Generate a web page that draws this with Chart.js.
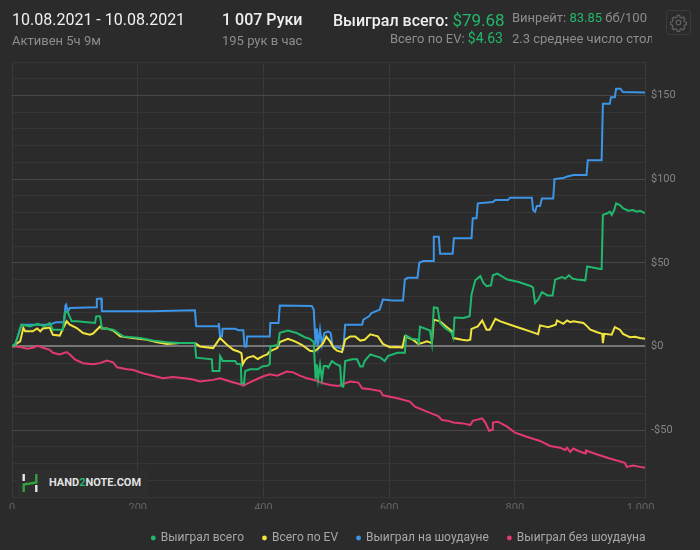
<!DOCTYPE html>
<html>
<head>
<meta charset="utf-8">
<script src="https://cdn.jsdelivr.net/npm/chart.js@4.4.1/dist/chart.umd.min.js"></script>
<style>
  body { margin: 0; background: #2b2b2b; font-family: Roboto, 'Noto Sans', sans-serif; overflow: hidden; }
  #wrap { position: relative; width: 700px; height: 550px; }
  #chart { position: absolute; left: 0; top: 0; }
  .t { position: absolute; white-space: nowrap; }
  .big { font-size: 16px; line-height: 16px; color: #efefef; }
  .med { font-weight: 500; }
  .sub { font-size: 13px; line-height: 13px; color: #8d8d8d; }
  .g { color: #22b86c; }
  .gear { position: absolute; left: 666px; top: 10px; width: 23px; height: 23px; border: 1px solid #3b3b3b; border-radius: 3px; }
  .mark { position: absolute; left: 17px; top: 470px; width: 131px; height: 26px; background: #2e2e2e; }
  .mark span.txt { position: absolute; left: 32px; top: 7px; font-size: 11px; line-height: 12px; font-weight: 700; color: #e2e2e2; }
</style>
</head>
<body>
<div id="wrap">
  <canvas id="chart" width="700" height="550"></canvas>

  <div class="t big" style="left:12px;top:12px">10.08.2021 - 10.08.2021</div>
  <div class="t sub" style="left:12px;top:34px">Активен 5ч 9м</div>
  <div class="t big med" style="left:222px;top:12px">1 007 Руки</div>
  <div class="t sub" style="left:222px;top:34px">195 рук в час</div>
  <div class="t big med" style="left:333px;top:12px">Выиграл всего: <span class="g" style="font-weight:400;font-size:17px">$79.68</span></div>
  <div class="t sub" style="right:197px;top:32px">Всего по EV: <span class="g" style="font-size:14px">$4.63</span></div>
  <div class="t sub" style="left:512px;top:11px">Винрейт: <span class="g">83.85</span> бб/100</div>
  <div class="t sub" style="left:512px;top:32px;width:140px;overflow:hidden">2.3 среднее число столов</div>
  <div class="gear">
    <svg width="23" height="23" viewBox="0 0 23 23">
      <g fill="none" stroke="#5e5e5e" stroke-width="1.3">
        <circle cx="11.5" cy="11.5" r="2.3"/>
        <path d="M10.3 4.5h2.4l.4 1.8 1.5.7 1.6-1 1.7 1.7-1 1.6.7 1.5 1.8.4v2.4l-1.8.4-.7 1.5 1 1.6-1.7 1.7-1.6-1-1.5.7-.4 1.8h-2.4l-.4-1.8-1.5-.7-1.6 1-1.7-1.7 1-1.6-.7-1.5-1.8-.4v-2.4l1.8-.4.7-1.5-1-1.6 1.7-1.7 1.6 1 1.5-.7z"/>
      </g>
    </svg>
  </div>
  <div class="mark">
    <svg width="24" height="24" viewBox="0 0 24 24" style="position:absolute;left:3px;top:1px">
      <rect x="2.5" y="3" width="2.4" height="7" fill="#e6e6e6"/>
      <path d="M3.7 21V13.5L16.3 11.5V3" fill="none" stroke="#2fa33f" stroke-width="2.4"/>
      <rect x="15.1" y="14" width="2.4" height="7" fill="#e6e6e6"/>
    </svg>
    <span class="txt">HAND<span class="g">2</span>NOTE.COM</span>
  </div>
</div>

<script>
// hands / values per series
const wonHands = [0, 5, 15, 29, 41, 52, 60, 65, 81, 84, 88, 95, 103, 132, 134, 140, 143, 161, 177, 204, 224, 247, 267, 291,
  293, 318, 319, 330, 331, 334, 335, 355, 358, 364, 365, 369, 371, 379, 391, 398, 407, 410, 411, 423, 426, 439, 453, 466,
  474, 480, 483, 485, 487, 490, 493, 496, 501, 503, 509, 515, 522, 524, 527, 530, 541, 549, 554, 558, 561, 570, 586, 593,
  598, 613, 625, 627, 636, 646, 647, 649, 665, 668, 671, 677, 681, 689, 700, 702, 704, 718, 728, 731, 737, 745, 750, 755,
  762, 765, 772, 788, 806, 826, 829, 832, 837, 843, 852, 860, 864, 875, 880, 886, 892, 899, 912, 915, 936, 938, 940, 947,
  951, 954, 958, 961, 967, 972, 980, 988, 994, 999, 1007];
const wonValues = [0, 1, 13, 12, 13.5, 12, 14, 10, 10, 20, 21, 15, 15, 14, 18, 18, 11, 10, 6, 5, 3.5, 2.5, 2, 2,
  -6.7, -7.7, -14.7, -14.7, -5.8, -7.7, -8.7, -8.7, -10.5, -10.5, -22, -22.3, -14.7, -13.7, -13.7, -12, -11.5, -10.5, 0, 0.8, 8.2, 9.5, 8, 5.5,
  4.5, 2.6, -19.6, -10.7, -19.6, -11, -19.6, -11.7, -11.7, -12.7, -8.7, -10.5, -11.7, -23.6, -24, -8.7, -7.7, -7.7, -12, -12, -8.7, -4.8, -6.7, -8.7,
  -5.8, -3.8, -3.8, 6.5, 4.5, 4.2, 1, 11.8, 9.5, 2, 23.3, 23, 14, 11, 8, 5.6, 17.3, 17, 18, 31, 39.5, 42, 38, 36,
  36.5, 42.5, 43.5, 40, 38.5, 36, 35, 26, 28, 32.5, 30.5, 30.5, 39.9, 41.5, 40.5, 42.5, 40.5, 40, 39.5, 47.8, 46.3, 46.3, 78.6, 79.6,
  80.5, 78.6, 81.5, 85.5, 84.5, 82.6, 81.1, 81.5, 80.5, 81, 79.7];

const evHands = [0, 13, 18, 21, 33, 40, 45, 49, 60, 65, 76, 81, 87, 92, 103, 113, 124, 129, 137, 140, 143, 151, 161, 172,
  192, 215, 231, 247, 267, 291, 299, 320, 331, 342, 352, 360, 365, 367, 371, 375, 384, 391, 399, 406, 410, 422, 426, 439,
  450, 461, 474, 481, 488, 495, 500, 506, 512, 517, 525, 530, 538, 546, 554, 561, 570, 582, 590, 601, 613, 621, 625, 632,
  638, 646, 652, 660, 668, 671, 681, 692, 700, 702, 716, 724, 729, 731, 741, 748, 755, 760, 769, 777, 796, 808, 824, 837,
  840, 853, 865, 867, 877, 883, 888, 893, 909, 915, 920, 931, 939, 940, 942, 954, 959, 967, 972, 983, 991, 999, 1007];
const evValues = [0, 3, 11, 9, 9, 10.7, 9, 10.7, 11.3, 7, 6.5, 10.7, 15, 13, 11, 8, 7, 7.7, 10.7, 11.9, 10.7, 10.7, 9.5, 6,
  5, 4, 2.5, 1.5, 2, 2, 0, -1, 5, 1, -2, -3, -4, -10.7, -8, -6.7, -5.8, -7.5, -5.8, -4.8, -3, -1, 2.6, 4.6,
  3, 1, -2.6, -3, -1, 2, 5.8, 3, -1, -2.5, -3.4, 4, 6, 6, 3.5, 4, 7.2, 6, 1.5, -0.5, -0.4, -0.7, 6, 5,
  4, 1.5, 2, 3, 2, 16, 15, 11.5, 9, 5, 4, 3.5, 4, 10.5, 12, 15.5, 10, 10, 16.5, 15, 12.5, 11, 9, 7.3,
  12.6, 11.5, 13, 15.5, 13.5, 15.5, 14.5, 15, 14, 12, 10, 8.5, 7.5, 2, 7.5, 7, 11.5, 10, 7.5, 5.5, 5.8, 5, 4.6];

const sdHands = [0, 5, 15, 60, 70, 83, 85, 86, 89, 92, 134, 135, 142, 143, 220, 291, 293, 328, 329, 331, 334, 335, 355, 360,
  368, 370, 373, 374, 410, 411, 424, 426, 477, 480, 483, 485, 487, 490, 493, 497, 503, 507, 510, 519, 527, 530, 557, 559,
  568, 572, 585, 590, 605, 622, 625, 630, 645, 648, 654, 670, 671, 679, 681, 701, 703, 731, 733, 739, 741, 765, 769, 789,
  792, 827, 829, 832, 835, 840, 843, 861, 863, 877, 882, 893, 914, 916, 938, 940, 951, 953, 959, 961, 968, 972, 1007];
const sdValues = [0, 1, 13, 13, 14.5, 14.5, 24.4, 25, 21, 23, 23.4, 28.4, 28.6, 21, 21, 21.6, 12, 12, 14, 6, 6, 10.5, 10.5, 9.7,
  9.7, 0, 0, 6, 6, 14, 14, 24.4, 24.2, 22, 1, 10.7, 1, 10, 1, 8, 9, 8, 0, -0.6, -1.8, 13, 13, 16,
  18, 20, 22, 28, 27.5, 27.5, 40, 41, 41, 50, 51, 51, 65.6, 65.6, 55.4, 55.4, 64.7, 64.7, 76.6, 76.6, 85.5, 86.3, 87.5, 87.5,
  88.9, 88.9, 81.5, 80.5, 84, 84, 88.4, 88.4, 100, 100.6, 101.4, 102.4, 102.4, 111.3, 111.3, 145, 145, 149, 149, 154, 154, 152, 151.8];

const nsdHands = [0, 13, 24, 33, 41, 49, 60, 65, 76, 87, 92, 100, 113, 129, 140, 151, 161, 167, 183, 192, 208, 224, 240, 256,
  267, 278, 288, 299, 320, 331, 347, 363, 368, 384, 399, 410, 422, 437, 447, 458, 469, 485, 495, 506, 519, 530, 538, 551,
  557, 570, 586, 590, 613, 633, 641, 660, 678, 684, 694, 702, 718, 729, 733, 748, 753, 759, 764, 765, 773, 787, 800, 819,
  840, 856, 872, 880, 883, 888, 893, 901, 912, 913, 931, 951, 975, 978, 988, 999, 1007];
const nsdValues = [0, -0.4, -1.4, -0.8, 0.4, -0.8, -2, -3.8, -4.8, -3.4, -4.8, -7.7, -10, -10.7, -10, -8.5, -9.5, -12.5, -13.7, -14, -16, -17.5, -19, -18.3,
  -18.7, -19.2, -19.8, -21, -20, -19, -21, -22.6, -23.4, -20.5, -18, -16.7, -17.5, -15, -15.5, -17.5, -19, -20.5, -22, -23, -23.6, -22, -21, -21.6,
  -25, -25.6, -26.7, -29.2, -31, -33, -36, -39, -41.7, -44, -44.5, -45.5, -46, -47, -44.5, -43, -45.5, -50.4, -49.8, -45.5, -45, -47.8, -51.5, -54,
  -56.5, -59.5, -60.5, -61.9, -60.5, -63, -61, -62.5, -64, -62.2, -64.6, -67, -69.6, -72, -71.2, -72, -72.6];

const seriesNames = ['Выиграл всего', 'Всего по EV', 'Выиграл на шоудауне', 'Выиграл без шоудауна'];
const seriesColors = ['#20b86c', '#f1e43f', '#3d95e8', '#e2396e'];

const xTickValues = [0, 200, 400, 600, 800, 1000];
const xMax = 1007;
const yMin = -90, yMax = 170;

function points(hands, values) {
  return hands.map((h, i) => ({ x: h, y: values[i] }));
}

function fmtNum(v) {
  return String(Math.abs(v)).replace(/\B(?=(\d{3})+(?!\d))/g, ' ');
}

function money(v) {
  return (v < 0 ? '-$' : '$') + fmtNum(v);
}

const allData = [
  points(wonHands, wonValues),
  points(evHands, evValues),
  points(sdHands, sdValues),
  points(nsdHands, nsdValues)
];

// puts the legend's right end on the plot's right edge and nudges it down
const legendPlace = {
  id: 'legendPlace',
  afterLayout(chart) {
    const lg = chart.legend;
    lg.right = chart.chartArea.right + lg.options.labels.padding + 0.5;
    lg.top += 4;
    lg.bottom += 4;
  }
};

Chart.defaults.font.family = "Roboto, 'Noto Sans', sans-serif";

const ctx = document.getElementById('chart').getContext('2d');
new Chart(ctx, {
  type: 'line',
  data: {
    datasets: allData.map((d, i) => ({
      label: seriesNames[i],
      data: d,
      borderColor: seriesColors[i],
      backgroundColor: seriesColors[i],
      borderWidth: 2,
      pointRadius: 0,
      tension: 0,
      fill: false
    }))
  },
  options: {
    responsive: false,
    animation: false,
    layout: { padding: { top: 62, left: 12, right: 0, bottom: 0 } },
    plugins: {
      tooltip: { enabled: false },
      legend: {
        position: 'bottom',
        align: 'end',
        labels: {
          usePointStyle: true,
          pointStyle: 'circle',
          boxWidth: 3,
          boxHeight: 2,
          padding: 19,
          color: '#a8a8a8',
          font: { size: 12 }
        }
      }
    },
    scales: {
      x: {
        type: 'linear',
        min: 0,
        max: xMax,
        afterFit: (s) => { s.height = 12; },
        afterBuildTicks: (s) => { s.ticks = xTickValues.map((v) => ({ value: v })); },
        ticks: {
          autoSkip: false,
          maxRotation: 0,
          padding: 5,
          color: '#646464',
          font: { size: 11 },
          callback: (v) => fmtNum(v)
        },
        grid: {
          drawTicks: false,
          color: (c) => (c.tick && c.tick.value === 1000) ? 'rgba(0,0,0,0)' : '#393939'
        },
        border: { display: false }
      },
      y: {
        position: 'right',
        min: yMin,
        max: yMax,
        afterFit: (s) => { s.width = 55; },
        ticks: {
          stepSize: 10,
          autoSkip: false,
          padding: 6,
          color: '#858585',
          font: { size: 11 },
          callback: (v) => (v % 50 === 0 ? money(v) : '')
        },
        grid: {
          drawTicks: false,
          color: (c) => {
            const v = c.tick ? c.tick.value : 1;
            if (v === 0) return '#767676';
            return v % 50 === 0 ? '#474747' : '#363636';
          },
          lineWidth: (c) => (c.tick && c.tick.value === 0 ? 2 : 1)
        },
        border: { color: '#3a3a3a' }
      }
    }
  },
  plugins: [legendPlace]
});
</script>
</body>
</html>
